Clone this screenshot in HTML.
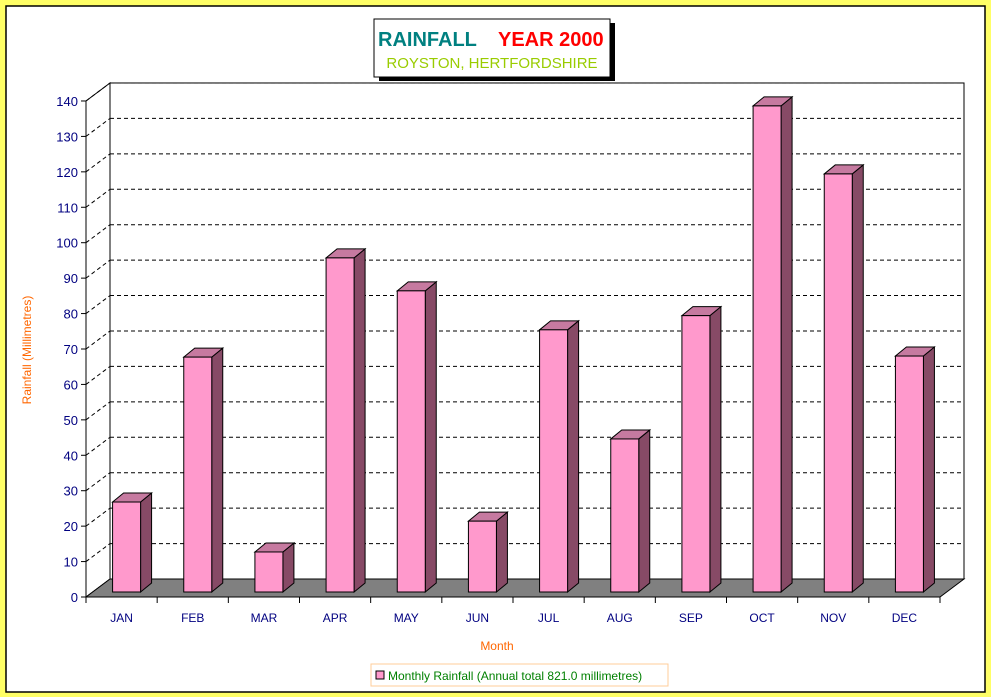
<!DOCTYPE html>
<html><head><meta charset="utf-8"><style>
html,body{margin:0;padding:0;background:#ffff66;}
svg{display:block;font-family:"Liberation Sans",Arial,sans-serif;}
</style></head><body>
<svg id="chart" width="991" height="697" viewBox="0 0 991 697">
<rect x="0" y="0" width="991" height="697" fill="#ffff66"/>
<rect x="6" y="6" width="979" height="686" fill="#fff" stroke="#000" stroke-width="1.5"/>
<g>
<rect x="379" y="23" width="236" height="58" fill="#000"/>
<rect x="374" y="19" width="236" height="58" fill="#fff" stroke="#000"/>
<text x="378" y="46" font-size="20" font-weight="bold" fill="#008080">RAINFALL</text>
<text x="498" y="46" font-size="20" font-weight="bold" fill="#ff0000">YEAR 2000</text>
<text x="492" y="68" font-size="15" fill="#99cc00" text-anchor="middle">ROYSTON, HERTFORDSHIRE</text>
</g>
<g id="plot"></g>
<text x="497" y="650" font-size="12" fill="#ff6600" text-anchor="middle">Month</text>
<text transform="translate(31,350) rotate(-90)" font-size="12" fill="#ff6600" text-anchor="middle">Rainfall  (Millimetres)</text>
<g>
<rect x="371" y="664" width="297" height="22" fill="#fff" stroke="#ffcc99"/>
<rect x="376" y="671" width="8" height="8" fill="#ff99cc" stroke="#000"/>
<text x="388" y="680" font-size="12" fill="#008000">Monthly Rainfall (Annual total 821.0 millimetres)</text>
</g>
</svg>
<script>
const categories=["JAN","FEB","MAR","APR","MAY","JUN","JUL","AUG","SEP","OCT","NOV","DEC"];
const values=[25.4,66.3,11.3,94.3,85.0,20.0,74.0,43.2,78.0,137.2,118.0,66.6];
const yTicks=[0,10,20,30,40,50,60,70,80,90,100,110,120,130,140];
const NS="http://www.w3.org/2000/svg";
const g=document.getElementById('plot');
const X0=86,X1=940,Y0=597,PX=3.543,DX=24,DY=-18;
const cw=(X1-X0)/categories.length;
function yS(v){return Y0-v*PX;}
function xS(i){return X0+i*cw;}
function mk(t,a,p){const e=document.createElementNS(NS,t);for(const k in a)e.setAttribute(k,a[k]);(p||g).appendChild(e);return e;}
// back wall
const wall=mk('rect',{x:X0+DX,y:yS(140)+DY,width:X1-X0,height:140*PX,fill:'#fff',stroke:'#000'});


// left wall
const lw=mk('polygon',{points:`${X0},${yS(0)} ${X0+DX},${yS(0)+DY} ${X0+DX},${yS(140)+DY} ${X0},${yS(140)}`,fill:'#fff',stroke:'#000'});


// gridlines
yTicks.forEach(v=>{
  if(v>0){
    const gl=mk('line',{x1:X0+DX,y1:yS(v)+DY,x2:X1+DX,y2:yS(v)+DY,stroke:'#000','stroke-dasharray':'4,3'});
    
    
    const sl=mk('line',{x1:X0,y1:yS(v),x2:X0+DX,y2:yS(v)+DY,stroke:'#000','stroke-dasharray':'4,3'});
    
    
  }
  const tk=mk('line',{x1:X0-5,y1:yS(v),x2:X0,y2:yS(v),stroke:'#000'});
  
  
  const tl=mk('text',{x:X0-8,y:yS(v)+5,'font-size':13,fill:'#000080','text-anchor':'end'});
  tl.textContent=v;
  
  
});
// floor
const fl=mk('polygon',{points:`${X0},${Y0} ${X1},${Y0} ${X1+DX},${Y0+DY} ${X0+DX},${Y0+DY}`,fill:'#808080',stroke:'#000'});


const ax=mk('line',{x1:X0,y1:yS(140),x2:X0,y2:Y0,stroke:'#000'});


// bars
const bw=28,bdx=11,bdy=-9,ox=8,oy=-5;
categories.forEach((c,i)=>{
  const cx=xS(i)+cw/2;
  const left=cx-bw/2+ox-3, base=Y0+oy, top=base-values[i]*PX;
  const grp=mk('g',{});
  
  
  mk('polygon',{points:`${left+bw},${base} ${left+bw+bdx},${base+bdy} ${left+bw+bdx},${top+bdy} ${left+bw},${top}`,fill:'#874a66',stroke:'#000'},grp);
  mk('polygon',{points:`${left},${top} ${left+bdx},${top+bdy} ${left+bw+bdx},${top+bdy} ${left+bw},${top}`,fill:'#c67aa0',stroke:'#000'},grp);
  mk('rect',{x:left,y:top,width:bw,height:base-top,fill:'#ff99cc',stroke:'#000'},grp);
  const tk=mk('line',{x1:xS(i),y1:Y0,x2:xS(i),y2:Y0+6,stroke:'#000'});
  
  
  const tl=mk('text',{x:cx,y:622,'font-size':12,fill:'#000080','text-anchor':'middle'});
  tl.textContent=c;
  
  
});
const lt=mk('line',{x1:X1,y1:Y0,x2:X1,y2:Y0+6,stroke:'#000'});


const xa=mk('line',{x1:X0,y1:Y0,x2:X1,y2:Y0,stroke:'#000'});


</script>
</body></html>
